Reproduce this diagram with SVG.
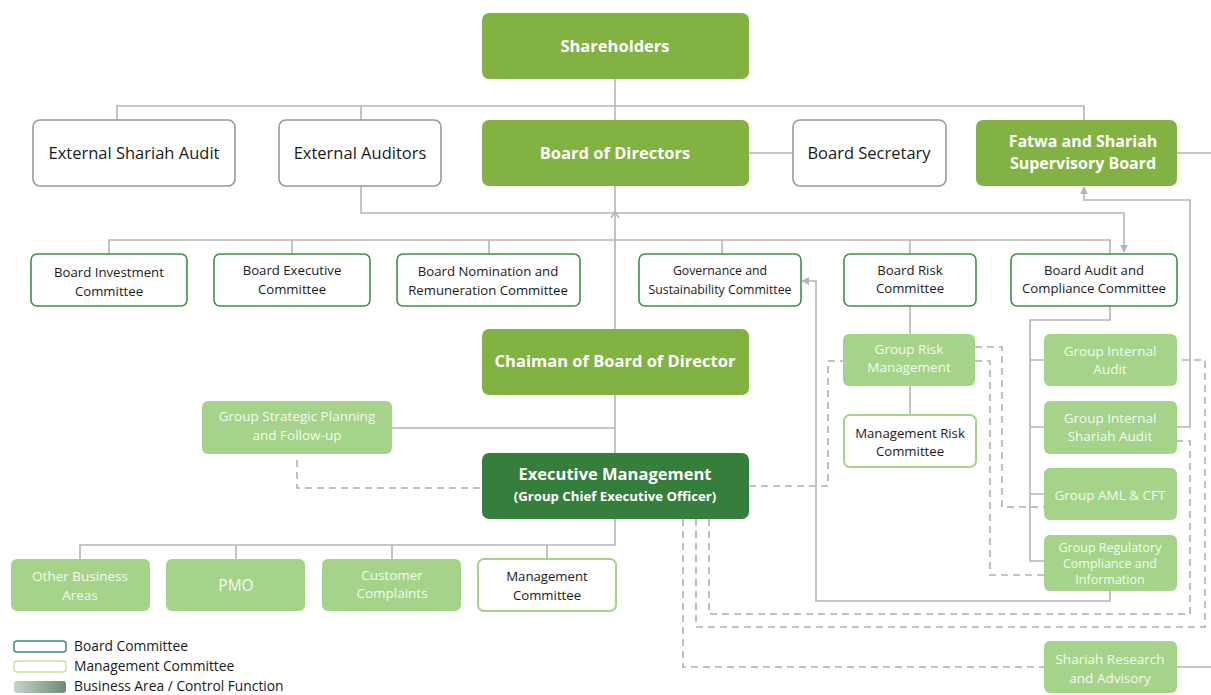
<svg xmlns="http://www.w3.org/2000/svg" width="1211" height="695" viewBox="0 0 1211 695">
<defs>
<marker id="arr" viewBox="0 0 10 10" refX="9" refY="5" markerWidth="8" markerHeight="8" markerUnits="userSpaceOnUse" orient="auto">
<path d="M0,0 L10,5 L0,10 z" fill="#b5b5b5"/>
</marker>
<linearGradient id="lg" x1="0" y1="0" x2="1" y2="0">
<stop offset="0" stop-color="#c5d3c9"/>
<stop offset="1" stop-color="#6f8a77"/>
</linearGradient>
<style>
.ln{fill:none;stroke:#b5b5b5;stroke-width:1.6}
.ds{fill:none;stroke:#b0b0b0;stroke-width:1.6;stroke-dasharray:7 5}
.main{fill:#82b242}
.dark{fill:#367e3c}
.ba{fill:#a5d38a}
.ext{fill:#fff;stroke:#8e9f92;stroke-width:1.6}
.bc{fill:#fff;stroke:#3f8f48;stroke-width:1.6}
.mc{fill:#fff;stroke:#a5d38a;stroke-width:2}
text{font-family:"Open Sans","Liberation Sans",sans-serif;text-anchor:middle;dominant-baseline:central}
.wb{fill:#fff;font-weight:bold;font-size:16.5px}
.bk{fill:#1a1a1a;font-size:16.5px}
.cm{fill:#1a1a1a;font-size:13.2px}
.lt{fill:#f4faef;font-size:13.5px}
.lg{fill:#1a1a1a;font-size:13.8px;text-anchor:start}
</style>
</defs>
<g id="connectors">
<path class="ln" d="M615,79 V453"/>
<path class="ln" d="M117,120 V106 H1084 V120 M361,106 V120"/>
<path class="ln" d="M749,153 H793 M1177,153 H1211"/>
<path class="ln" d="M361,186 V213 H1124 V252" marker-end="url(#arr)"/>
<path class="ln" d="M611,218 L615,211 L619,218"/>
<path class="ln" d="M109,254 V240 H1110 V254 M292,240 V254 M489,240 V254 M722,240 V254 M910,240 V254"/>
<path class="ln" d="M910,306 V334 M910,386 V415"/>
<path class="ln" d="M1110,306 V320 H1030 V561 H1044 M1030,360 H1044 M1030,427 H1044 M1030,494 H1044"/>
<path class="ln" d="M1177,427 H1190 V200 H1084 V187" marker-end="url(#arr)"/>
<path class="ln" d="M1110,591 V601 H816 V281 H802" marker-end="url(#arr)"/>
<path class="ln" d="M392,428 H615"/>
<path class="ln" d="M615,519 V545 H80 V559 M236,545 V559 M392,545 V559 M547,545 V559"/>
<path class="ln" d="M1177,667 H1211"/>
<path class="ds" d="M297,460 V488 H482"/>
<path class="ds" d="M749,486 H828 V361 H843"/>
<path class="ds" d="M975,347 H1002 V507 H1044"/>
<path class="ds" d="M975,361 H990 V575 H1044"/>
<path class="ds" d="M709,519 V614 H1190 V441 H1177"/>
<path class="ds" d="M696,519 V627 H1205 V360 H1177"/>
<path class="ds" d="M683,519 V667 H1044"/>
</g>
<g id="shareholders"><rect class="main" x="482" y="13" width="267" height="66" rx="7"/><text class="wb" x="615" y="45">Shareholders</text></g>
<g id="ext-shariah-audit"><rect class="ext" x="33" y="120" width="202" height="66" rx="7"/><text class="bk" x="134" y="152">External Shariah Audit</text></g>
<g id="ext-auditors"><rect class="ext" x="279" y="120" width="162" height="66" rx="7"/><text class="bk" x="360" y="152">External Auditors</text></g>
<g id="board"><rect class="main" x="482" y="120" width="267" height="66" rx="7"/><text class="wb" x="615" y="152">Board of Directors</text></g>
<g id="secretary"><rect class="ext" x="793" y="120" width="153" height="66" rx="7"/><text class="bk" x="869" y="152">Board Secretary</text></g>
<g id="fatwa"><rect class="main" x="976" y="120" width="201" height="66" rx="7"/><text class="wb" x="1083" y="141" style="font-size:16px">Fatwa and Shariah</text><text class="wb" x="1083" y="163" style="font-size:16px">Supervisory Board</text></g>
<g id="bic"><rect class="bc" x="31" y="254" width="156" height="52" rx="6"/><text class="cm" x="109" y="272">Board Investment</text><text class="cm" x="109" y="291">Committee</text></g>
<g id="bec"><rect class="bc" x="214" y="254" width="156" height="52" rx="6"/><text class="cm" x="292" y="270">Board Executive</text><text class="cm" x="292" y="289">Committee</text></g>
<g id="bnrc"><rect class="bc" x="397" y="254" width="183" height="52" rx="6"/><text class="cm" x="488" y="271">Board Nomination and</text><text class="cm" x="488" y="290">Remuneration Committee</text></g>
<g id="gsc"><rect class="bc" x="639" y="254" width="162" height="52" rx="6"/><text class="cm" x="720" y="270" style="font-size:12.3px">Governance and</text><text class="cm" x="720" y="289" style="font-size:12.3px">Sustainability Committee</text></g>
<g id="brc"><rect class="bc" x="844" y="254" width="132" height="52" rx="6"/><text class="cm" x="910" y="270">Board Risk</text><text class="cm" x="910" y="288">Committee</text></g>
<g id="bacc"><rect class="bc" x="1011" y="254" width="166" height="52" rx="6"/><text class="cm" x="1094" y="270">Board Audit and</text><text class="cm" x="1094" y="288">Compliance Committee</text></g>
<g id="chairman"><rect class="main" x="482" y="329" width="267" height="66" rx="7"/><text class="wb" x="615" y="360">Chaiman of Board of Director</text></g>
<g id="gspf"><rect class="ba" x="202" y="401" width="190" height="53" rx="6"/><text class="lt" x="297" y="416">Group Strategic Planning</text><text class="lt" x="297" y="435">and Follow-up</text></g>
<g id="exec"><rect class="dark" x="482" y="453" width="267" height="66" rx="7"/><text class="wb" x="615" y="473">Executive Management</text><text class="wb" x="615" y="496" style="font-size:13.2px">(Group Chief Executive Officer)</text></g>
<g id="grm"><rect class="ba" x="843" y="334" width="132" height="52" rx="6"/><text class="lt" x="909" y="349">Group Risk</text><text class="lt" x="909" y="367">Management</text></g>
<g id="mrc"><rect class="mc" x="844" y="415" width="132" height="52" rx="6"/><text class="cm" x="910" y="433">Management Risk</text><text class="cm" x="910" y="451">Committee</text></g>
<g id="gia"><rect class="ba" x="1044" y="334" width="133" height="52" rx="6"/><text class="lt" x="1110" y="351">Group Internal</text><text class="lt" x="1110" y="369">Audit</text></g>
<g id="gisa"><rect class="ba" x="1044" y="401" width="133" height="53" rx="6"/><text class="lt" x="1110" y="418">Group Internal</text><text class="lt" x="1110" y="436">Shariah Audit</text></g>
<g id="aml"><rect class="ba" x="1044" y="468" width="133" height="52" rx="6"/><text class="lt" x="1110" y="495">Group AML &amp; CFT</text></g>
<g id="grci"><rect class="ba" x="1044" y="535" width="133" height="56" rx="6"/><text class="lt" x="1110" y="547" style="font-size:12.5px">Group Regulatory</text><text class="lt" x="1110" y="563" style="font-size:12.5px">Compliance and</text><text class="lt" x="1110" y="579" style="font-size:12.5px">Information</text></g>
<g id="sra"><rect class="ba" x="1044" y="641" width="133" height="52" rx="6"/><text class="lt" x="1110" y="659">Shariah Research</text><text class="lt" x="1110" y="678">and Advisory</text></g>
<g id="oba"><rect class="ba" x="11" y="559" width="139" height="52" rx="6"/><text class="lt" x="80" y="576">Other Business</text><text class="lt" x="80" y="595">Areas</text></g>
<g id="pmo"><rect class="ba" x="166" y="559" width="139" height="52" rx="6"/><text class="lt" x="236" y="585" style="font-size:15.5px">PMO</text></g>
<g id="cc"><rect class="ba" x="322" y="559" width="139" height="52" rx="6"/><text class="lt" x="392" y="575">Customer</text><text class="lt" x="392" y="593">Complaints</text></g>
<g id="mgmtc"><rect class="mc" x="478" y="559" width="138" height="52" rx="6"/><text class="cm" x="547" y="576">Management</text><text class="cm" x="547" y="595">Committee</text></g>
<g id="legend">
<rect x="14" y="641" width="52" height="11" rx="3" fill="#fff" stroke="#3a8a78" stroke-width="1.5"/>
<text class="lg" x="74" y="645">Board Committee</text>
<rect x="14" y="661" width="52" height="11" rx="3" fill="#fff" stroke="#c9e3a3" stroke-width="1.5"/>
<text class="lg" x="74" y="665">Management Committee</text>
<rect x="14" y="681" width="52" height="12" rx="3" fill="url(#lg)"/>
<text class="lg" x="74" y="685">Business Area / Control Function</text>
</g>
</svg>
